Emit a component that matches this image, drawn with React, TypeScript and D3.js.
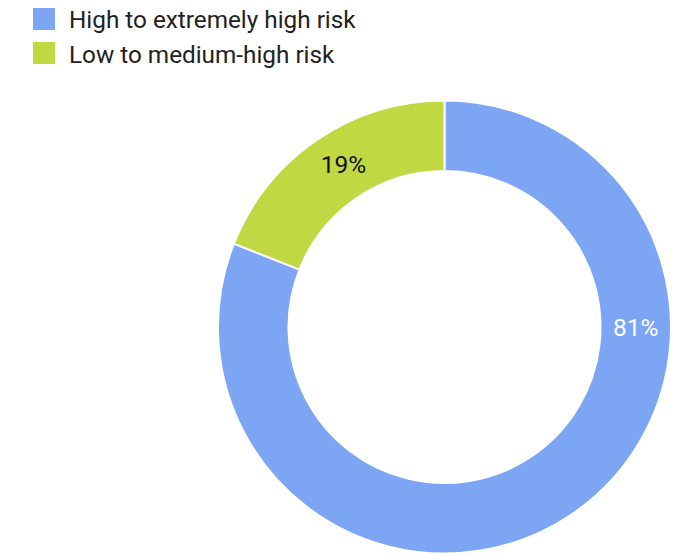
import React from "react";
import * as d3 from "d3";

const categories = ["High to extremely high risk", "Low to medium-high risk"];
const shares = [81, 19];
const colors = ["#7ca5f4", "#c0d841"];
const labelColors = ["#ffffff", "#111111"];
// angle (radians, clockwise from 12 o'clock) where each slice's label sits
const labelAngles = [Math.PI / 2, null as number | null];

const W = 683;
const H = 556;
const cx = 444.5;
const cy = 327;
const outerR = 226.5;
const innerR = 156;

export default function App() {
  const pie = d3
    .pie<number>()
    .sort(null)
    .value((d) => d)(shares);
  const arc = d3
    .arc<d3.PieArcDatum<number>>()
    .innerRadius(innerR)
    .outerRadius(outerR);
  const midR = (innerR + outerR) / 2;

  return (
    <svg
      width={W}
      height={H}
      style={{ position: "absolute", left: 0, top: 0 }}
      fontFamily="Roboto, sans-serif"
    >
      <rect width={W} height={H} fill="#fff" />
      <g transform={`translate(${cx},${cy})`}>
        {pie.map((p, i) => (
          <path key={i} d={arc(p) || ""} fill={colors[i]} stroke="#fff" strokeWidth={2} />
        ))}
        {pie.map((p, i) => {
          const a = labelAngles[i] ?? (p.startAngle + p.endAngle) / 2 + 0.04;
          const x = midR * Math.sin(a);
          const y = -midR * Math.cos(a);
          return (
            <text
              key={i}
              x={x}
              y={y}
              textAnchor="middle"
              dominantBaseline="central"
              fontSize={24.5}
              fill={labelColors[i]}
            >
              {`${shares[i]}%`}
            </text>
          );
        })}
      </g>
      <g>
        {categories.map((c, i) => (
          <g key={c}>
            <rect x={33} y={8 + i * 34} width={22} height={22} fill={colors[i]} />
            <text x={69} y={28 + i * 35} fontSize={24.3} fill="#222">
              {c}
            </text>
          </g>
        ))}
      </g>
    </svg>
  );
}
